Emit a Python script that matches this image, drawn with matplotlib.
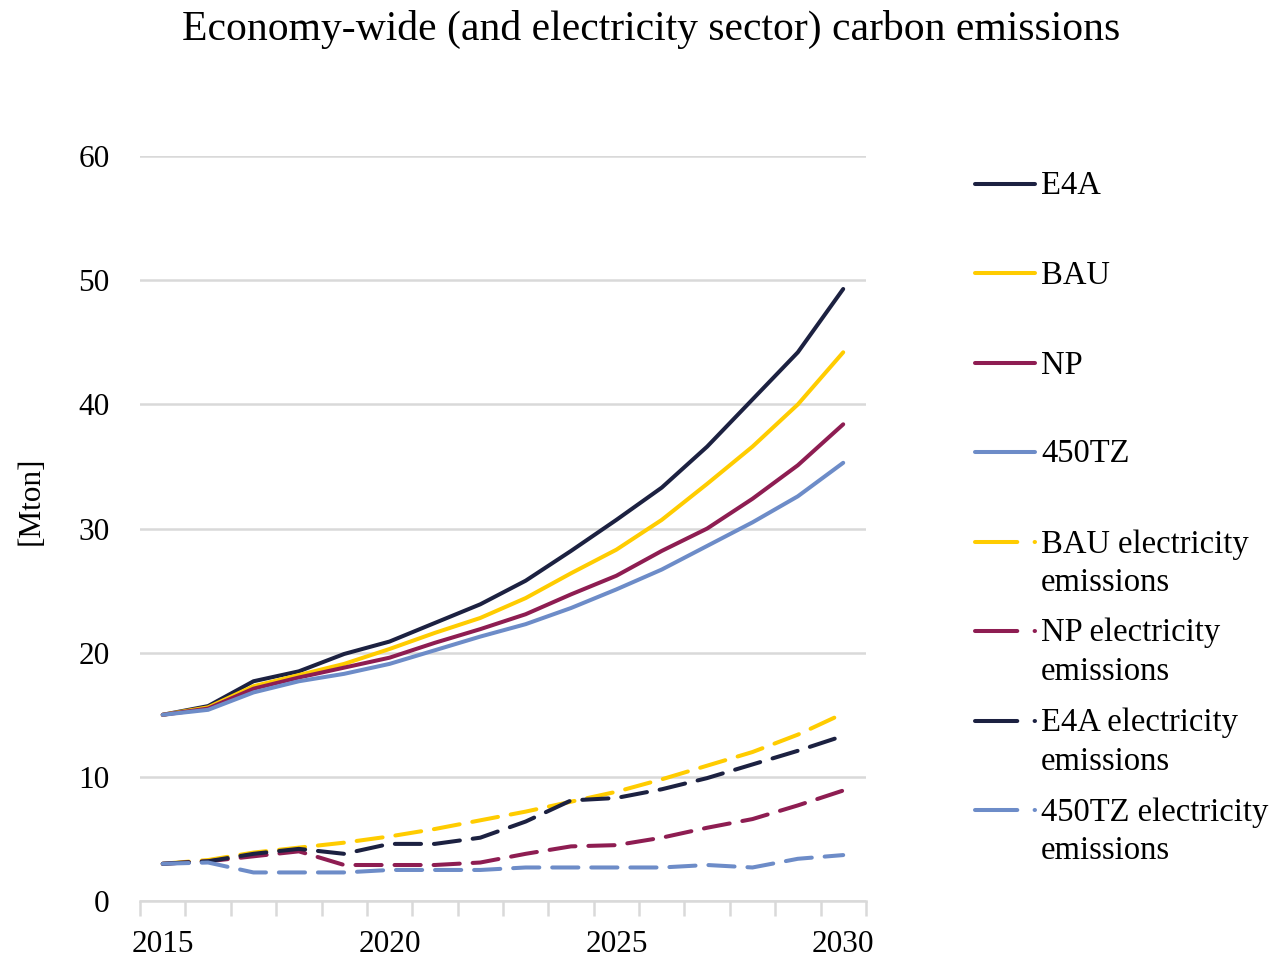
import matplotlib
matplotlib.use("Agg")
import matplotlib.pyplot as plt
from matplotlib.lines import Line2D

# Scenario emissions, Mton CO2
years = list(range(2015, 2031))

e4a = [15.0, 15.7, 17.7, 18.5, 19.9, 20.9, 22.4, 23.9, 25.8, 28.2,
       30.7, 33.3, 36.6, 40.4, 44.2, 49.3]
bau = [15.0, 15.6, 17.3, 18.2, 19.1, 20.3, 21.6, 22.8, 24.4, 26.4,
       28.3, 30.7, 33.6, 36.6, 40.0, 44.2]
np_ = [15.0, 15.5, 17.1, 18.0, 18.8, 19.6, 20.8, 21.9, 23.1, 24.7,
       26.2, 28.2, 30.0, 32.4, 35.1, 38.4]
tz450 = [15.0, 15.4, 16.8, 17.7, 18.3, 19.1, 20.2, 21.3, 22.3, 23.6,
         25.1, 26.7, 28.6, 30.5, 32.6, 35.3]

bau_elec = [3.0, 3.3, 3.9, 4.3, 4.7, 5.2, 5.8, 6.5, 7.2, 8.0,
            8.8, 9.8, 10.9, 12.0, 13.4, 15.1]
np_elec = [3.0, 3.2, 3.6, 4.0, 2.9, 2.9, 2.9, 3.1, 3.8, 4.4,
           4.5, 5.1, 5.9, 6.6, 7.7, 8.9]
e4a_elec = [3.0, 3.2, 3.8, 4.2, 3.8, 4.6, 4.6, 5.1, 6.4, 8.1,
            8.3, 9.0, 9.9, 11.0, 12.1, 13.3]
tz450_elec = [3.0, 3.1, 2.3, 2.3, 2.3, 2.5, 2.5, 2.5, 2.7, 2.7,
              2.7, 2.7, 2.9, 2.7, 3.4, 3.7]

NAVY = "#1c2141"
GOLD = "#ffcc00"
MAROON = "#8e1d52"
BLUE = "#6d8cc8"
GRID = "#d9d9d9"

series = [
    ("E4A", e4a, NAVY, "-"),
    ("BAU", bau, GOLD, "-"),
    ("NP", np_, MAROON, "-"),
    ("450TZ", tz450, BLUE, "-"),
    ("BAU electricity\nemissions", bau_elec, GOLD, "--"),
    ("NP electricity\nemissions", np_elec, MAROON, "--"),
    ("E4A electricity\nemissions", e4a_elec, NAVY, "--"),
    ("450TZ electricity\nemissions", tz450_elec, BLUE, "--"),
]

plt.rcParams["font.family"] = ["Liberation Serif", "DejaVu Serif"]
LW = 2.9
DASH = (6.5, 3.2)
TICK_FS = 22.5
LEGEND_FS = 23.5

fig = plt.figure(figsize=(12.79, 9.58), dpi=100)
ax = fig.add_axes([0.1095, 0.0595, 0.5675, 0.7775])

idx = list(range(len(years)))
for label, vals, color, ls in series:
    line, = ax.plot(idx, vals, color=color, lw=LW, solid_capstyle="round",
                    dash_capstyle="round", solid_joinstyle="round")
    if ls == "--":
        line.set_dashes(DASH)

ax.set_xlim(-0.5, len(years) - 0.5)
ax.set_ylim(0, 60)
ax.set_yticks(range(0, 61, 10))
ax.yaxis.grid(True, color=GRID, lw=1.8)
ax.set_axisbelow(True)

# category axis: ticks between years, labels every five years
ax.set_xticks([i - 0.5 for i in range(len(years) + 1)], minor=False)
ax.set_xticklabels([])
ax.set_xticks([i for i, y in enumerate(years) if y % 5 == 0], minor=True)
ax.set_xticklabels([str(y) for y in years if y % 5 == 0], minor=True)
ax.tick_params(axis="x", which="major", length=11, width=1.8, color=GRID,
               direction="out")
ax.tick_params(axis="x", which="minor", length=0, pad=21, labelsize=TICK_FS)
ax.tick_params(axis="y", length=0, pad=22, labelsize=TICK_FS)

for side in ("top", "right", "left"):
    ax.spines[side].set_visible(False)
ax.spines["bottom"].set_color(GRID)
ax.spines["bottom"].set_linewidth(1.8)

ax.set_ylabel("[Mton]", fontsize=TICK_FS)
ax.yaxis.set_label_coords(-0.13, 0.537)

fig.text(0.509, 0.969, "Economy-wide (and electricity sector) carbon emissions",
         ha="center", va="center", fontsize=30)

# legend down the right-hand side, handle level with the first text line
W, H = 1279, 958
row_y = [184, 273, 363, 452, 542, 631, 721, 810]
for (label, vals, color, ls), y in zip(series, row_y):
    yf = 1 - y / H
    handle = Line2D([975 / W, 1035 / W], [yf, yf], transform=fig.transFigure,
                    color=color, lw=LW, solid_capstyle="round",
                    dash_capstyle="round")
    if ls == "--":
        handle.set_dashes((10.5, 4.3))
    fig.add_artist(handle)
    fig.text(1041 / W, 1 - (y - 13) / H, label, ha="left", va="top",
             fontsize=LEGEND_FS, linespacing=1.33)

fig.savefig("out.png", dpi=100)
